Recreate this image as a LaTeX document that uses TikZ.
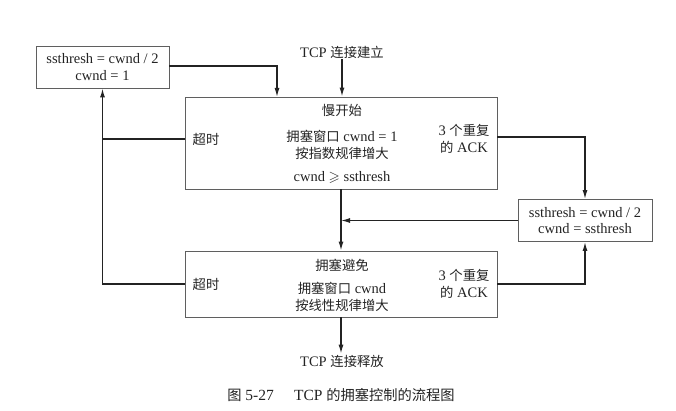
\documentclass[tikz,border=0pt]{standalone}
\usepackage{amsmath,amssymb}
\usepackage{fontspec}
\setmainfont{Liberation Serif}
\newfontfamily\cjk[Scale=0.92]{Noto Sans CJK SC}
\usepackage{xcolor}
\usetikzlibrary{arrows.meta,calc,positioning}
\definecolor{inkgrey}{RGB}{35,35,35}
\definecolor{boxgrey}{RGB}{95,95,95}
\tikzset{
  statebox/.style={draw=boxgrey,line width=0.9pt,inner sep=0pt},
  resetbox/.style={draw=boxgrey,line width=0.9pt,align=center,inner sep=5pt,
    minimum height=42pt},
  flow/.style={-{Latex[length=9pt,width=5pt]},line width=1.3pt,draw=inkgrey},
  plain/.style={line width=1.3pt,draw=inkgrey},
  txt/.style={text=inkgrey,align=center,inner sep=1pt}
}

\begin{document}
\begin{tikzpicture}[x=1pt,y=-1pt,
  every node/.style={font=\fontsize{14.5}{16.5}\selectfont,text=inkgrey}]
  \useasboundingbox (0,0) rectangle (676,411);
  % state boxes
  \node[statebox,minimum width=312pt,minimum height=92pt] (ss) at (341,143) {};
  \node[statebox,minimum width=312pt,minimum height=66pt] (ca) at (341,284) {};
  \node[resetbox,minimum width=133pt] (resetA) at (102.5,67) {ssthresh = cwnd / 2\\cwnd = 1};
  \node[resetbox,minimum width=134pt] (resetB) at (585,220.5) {ssthresh = cwnd / 2\\cwnd = ssthresh};
  % texts in slow start box
  \node[txt] (start) at (342,52) {TCP {\cjk 连接建立}};
  \node[txt] (sstitle) at (342,110) {\cjk 慢开始};
  \node[txt] (to1) at (206,139) {\cjk 超时};
  \node[txt] (ssrule) at (342,145) {{\cjk 拥塞窗口} cwnd = 1\\{\cjk 按指数规律增大}};
  \node[txt] (sslimit) at (342,177) {cwnd $\geqslant$ ssthresh};
  \node[txt] (dup1) at (464,139) {3 {\cjk 个重复}\\{\cjk 的} ACK};
  % texts in congestion avoidance box
  \node[txt] (catitle) at (342,265) {\cjk 拥塞避免};
  \node[txt] (to2) at (206,284) {\cjk 超时};
  \node[txt] (carule) at (342,297) {{\cjk 拥塞窗口} cwnd\\{\cjk 按线性规律增大}};
  \node[txt] (dup2) at (464,284) {3 {\cjk 个重复}\\{\cjk 的} ACK};
  \node[txt] (finish) at (342,361) {TCP {\cjk 连接释放}};
  \node[txt,font=\fontsize{15.5}{17}\selectfont] (caption) at (341,395)
    {{\cjk 图} 5-27\hspace{1.3em}TCP {\cjk 的拥塞控制的流程图}};
  \coordinate (ssin) at (277,97);
  % connectors
  \draw[flow] (start) -- (start |- ss.north);
  \draw[flow] (resetA.east |- 0,66) -| (ssin);
  \draw[plain] (to1 -| ss.west) -- (to1 -| resetA.south);
  \draw[flow] (to2 -| ca.west) -| (resetA.south);
  \draw[flow] (ss.south) -- (ca.north);
  \draw[flow] (resetB.west) -- (resetB.west -| ss.south);
  \draw[flow] (ss.east |- 0,137) -| (resetB.north);
  \draw[flow] (dup2 -| ca.east) -| (resetB.south);
  \draw[flow] (ca.south) -- (ca.south |- finish.north);
\end{tikzpicture}
\end{document}
